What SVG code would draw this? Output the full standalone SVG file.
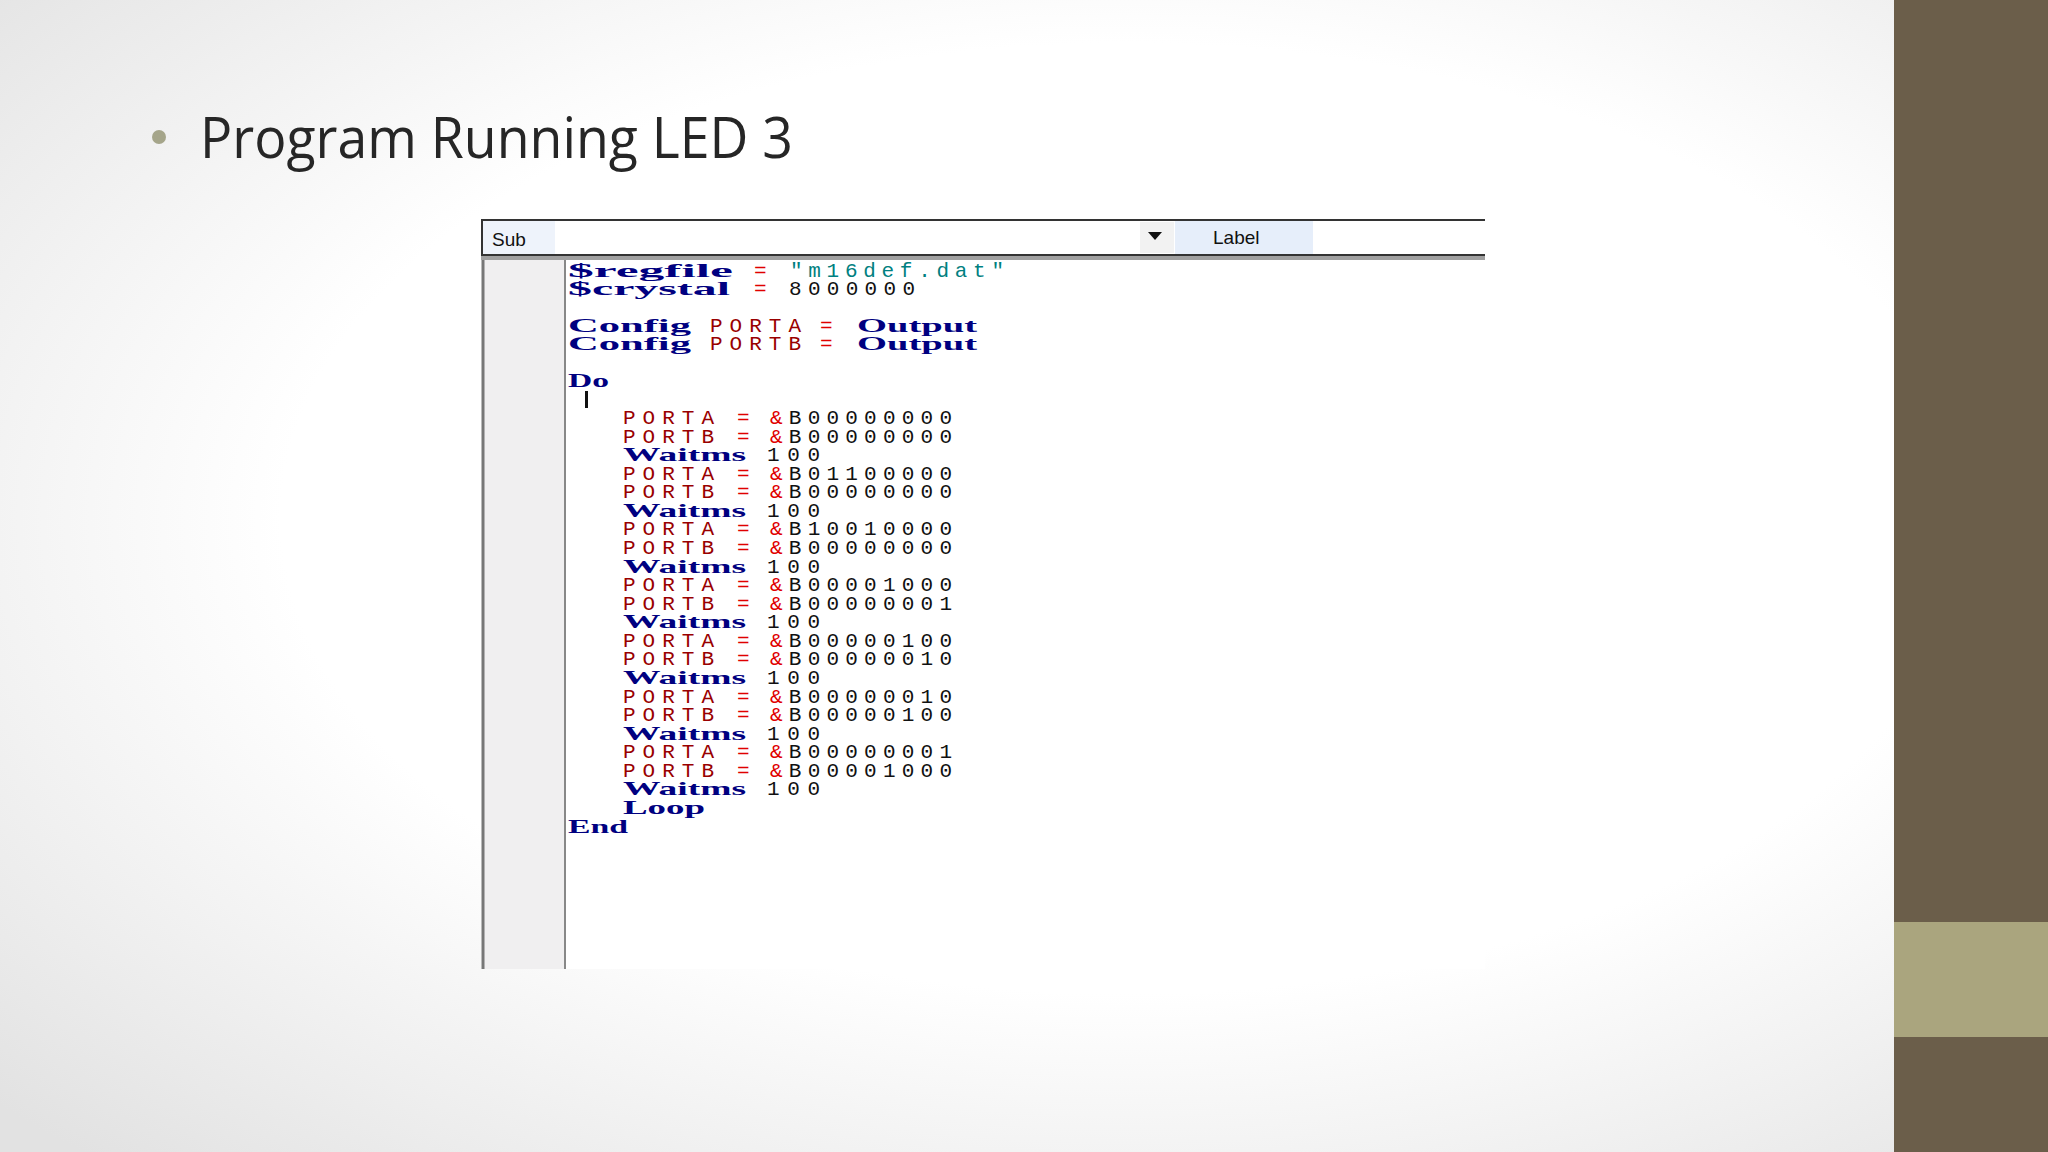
<svg xmlns="http://www.w3.org/2000/svg" width="2048" height="1152" viewBox="0 0 2048 1152">
<defs>
<radialGradient id="bg" cx="0.55" cy="0.45" r="0.75">
<stop offset="0.55" stop-color="#ffffff"/>
<stop offset="1" stop-color="#e2e2e2"/>
</radialGradient>
<style>
.c{font-family:"Liberation Mono","DejaVu Sans Mono",monospace;font-size:21px}
.b{font-weight:bold;fill:#000080;font-family:"Liberation Serif",serif;font-size:19px}
.r{fill:#990000}
.e{fill:#e00000}
.k{fill:#111111}
.s{fill:#008080}
.ui{font-family:"Liberation Sans",Arial,sans-serif;font-size:19px;fill:#111}
</style>
</defs>
<rect width="2048" height="1152" fill="url(#bg)"/>
<g id="sidebar">
<rect x="1894" y="0" width="154" height="1152" fill="#6b5e4a"/>
<rect x="1894" y="922" width="154" height="115" fill="#aaa57e"/>
</g>
<g id="title">
<circle cx="159" cy="137" r="7" fill="#a5a58a"/>
<text x="200" y="158" font-family="'Open Sans','Noto Sans',sans-serif" font-size="56" fill="#262626" textLength="593" lengthAdjust="spacingAndGlyphs">Program Running LED 3</text>
</g>
<g id="editor">
<rect x="481" y="219" width="1004" height="750" fill="#ffffff"/>
<rect x="483" y="221" width="72" height="33" fill="#eef3fb"/>
<rect x="1175" y="221" width="138" height="33" fill="#e6eefa"/>
<rect x="1140" y="222" width="34" height="31" fill="#f2f2f2"/>
<line x1="481" y1="220" x2="1485" y2="220" stroke="#333" stroke-width="2"/>
<line x1="482" y1="219" x2="482" y2="255" stroke="#333" stroke-width="2"/>
<line x1="481" y1="255" x2="1485" y2="255" stroke="#333" stroke-width="2"/>
<rect x="481" y="256" width="1004" height="4" fill="#a0a0a0"/>
<rect x="483" y="260" width="82" height="709" fill="#f0eff0"/>
<line x1="483" y1="260" x2="483" y2="969" stroke="#777" stroke-width="3"/>
<line x1="565" y1="260" x2="565" y2="969" stroke="#888" stroke-width="2"/>
<text class="ui" x="492" y="246">Sub</text>
<path d="M1148,232 h14 l-7,8 z" fill="#111"/>
<text class="ui" x="1213" y="244">Label</text>
<rect x="585" y="391" width="3" height="17" fill="#111"/>
</g>
<g id="code" class="c">
<text x="568" y="277" class="b" textLength="165" lengthAdjust="spacingAndGlyphs">$regfile</text>
<text x="754" y="277" class="e">=</text>
<text x="790" y="277" class="s" textLength="214" lengthAdjust="spacing">"m16def.dat"</text>
<text x="568" y="295" class="b" textLength="162" lengthAdjust="spacingAndGlyphs">$crystal</text>
<text x="754" y="295" class="e">=</text>
<text x="789" y="295" class="k" textLength="126" lengthAdjust="spacing">8000000</text>
<text x="568" y="332" class="b" textLength="123" lengthAdjust="spacingAndGlyphs">Config</text>
<text x="710" y="332" class="r" textLength="91" lengthAdjust="spacing">PORTA</text>
<text x="820" y="332" class="e">=</text>
<text x="857" y="332" class="b" textLength="120" lengthAdjust="spacingAndGlyphs">Output</text>
<text x="568" y="350" class="b" textLength="123" lengthAdjust="spacingAndGlyphs">Config</text>
<text x="710" y="350" class="r" textLength="91" lengthAdjust="spacing">PORTB</text>
<text x="820" y="350" class="e">=</text>
<text x="857" y="350" class="b" textLength="120" lengthAdjust="spacingAndGlyphs">Output</text>
<text x="568" y="387" class="b" textLength="41" lengthAdjust="spacingAndGlyphs">Do</text>

<g id="l1"><text x="623" y="424" class="r" textLength="91" lengthAdjust="spacing">PORTA</text><text x="737" y="424" class="e">=</text><text x="770" y="424" textLength="182" lengthAdjust="spacing"><tspan class="e">&amp;</tspan><tspan class="k">B00000000</tspan></text></g>
<g id="l2"><text x="623" y="443" class="r" textLength="91" lengthAdjust="spacing">PORTB</text><text x="737" y="443" class="e">=</text><text x="770" y="443" textLength="182" lengthAdjust="spacing"><tspan class="e">&amp;</tspan><tspan class="k">B00000000</tspan></text></g>
<g id="l3"><text x="623" y="461" class="b" textLength="123" lengthAdjust="spacingAndGlyphs">Waitms</text><text x="767" y="461" class="k" textLength="53" lengthAdjust="spacing">100</text></g>
<g id="l4"><text x="623" y="480" class="r" textLength="91" lengthAdjust="spacing">PORTA</text><text x="737" y="480" class="e">=</text><text x="770" y="480" textLength="182" lengthAdjust="spacing"><tspan class="e">&amp;</tspan><tspan class="k">B01100000</tspan></text></g>
<g id="l5"><text x="623" y="498" class="r" textLength="91" lengthAdjust="spacing">PORTB</text><text x="737" y="498" class="e">=</text><text x="770" y="498" textLength="182" lengthAdjust="spacing"><tspan class="e">&amp;</tspan><tspan class="k">B00000000</tspan></text></g>
<g id="l6"><text x="623" y="517" class="b" textLength="123" lengthAdjust="spacingAndGlyphs">Waitms</text><text x="767" y="517" class="k" textLength="53" lengthAdjust="spacing">100</text></g>
<g id="l7"><text x="623" y="535" class="r" textLength="91" lengthAdjust="spacing">PORTA</text><text x="737" y="535" class="e">=</text><text x="770" y="535" textLength="182" lengthAdjust="spacing"><tspan class="e">&amp;</tspan><tspan class="k">B10010000</tspan></text></g>
<g id="l8"><text x="623" y="554" class="r" textLength="91" lengthAdjust="spacing">PORTB</text><text x="737" y="554" class="e">=</text><text x="770" y="554" textLength="182" lengthAdjust="spacing"><tspan class="e">&amp;</tspan><tspan class="k">B00000000</tspan></text></g>
<g id="l9"><text x="623" y="573" class="b" textLength="123" lengthAdjust="spacingAndGlyphs">Waitms</text><text x="767" y="573" class="k" textLength="53" lengthAdjust="spacing">100</text></g>
<g id="l10"><text x="623" y="591" class="r" textLength="91" lengthAdjust="spacing">PORTA</text><text x="737" y="591" class="e">=</text><text x="770" y="591" textLength="182" lengthAdjust="spacing"><tspan class="e">&amp;</tspan><tspan class="k">B00001000</tspan></text></g>
<g id="l11"><text x="623" y="610" class="r" textLength="91" lengthAdjust="spacing">PORTB</text><text x="737" y="610" class="e">=</text><text x="770" y="610" textLength="182" lengthAdjust="spacing"><tspan class="e">&amp;</tspan><tspan class="k">B00000001</tspan></text></g>
<g id="l12"><text x="623" y="628" class="b" textLength="123" lengthAdjust="spacingAndGlyphs">Waitms</text><text x="767" y="628" class="k" textLength="53" lengthAdjust="spacing">100</text></g>
<g id="l13"><text x="623" y="647" class="r" textLength="91" lengthAdjust="spacing">PORTA</text><text x="737" y="647" class="e">=</text><text x="770" y="647" textLength="182" lengthAdjust="spacing"><tspan class="e">&amp;</tspan><tspan class="k">B00000100</tspan></text></g>
<g id="l14"><text x="623" y="665" class="r" textLength="91" lengthAdjust="spacing">PORTB</text><text x="737" y="665" class="e">=</text><text x="770" y="665" textLength="182" lengthAdjust="spacing"><tspan class="e">&amp;</tspan><tspan class="k">B00000010</tspan></text></g>
<g id="l15"><text x="623" y="684" class="b" textLength="123" lengthAdjust="spacingAndGlyphs">Waitms</text><text x="767" y="684" class="k" textLength="53" lengthAdjust="spacing">100</text></g>
<g id="l16"><text x="623" y="703" class="r" textLength="91" lengthAdjust="spacing">PORTA</text><text x="737" y="703" class="e">=</text><text x="770" y="703" textLength="182" lengthAdjust="spacing"><tspan class="e">&amp;</tspan><tspan class="k">B00000010</tspan></text></g>
<g id="l17"><text x="623" y="721" class="r" textLength="91" lengthAdjust="spacing">PORTB</text><text x="737" y="721" class="e">=</text><text x="770" y="721" textLength="182" lengthAdjust="spacing"><tspan class="e">&amp;</tspan><tspan class="k">B00000100</tspan></text></g>
<g id="l18"><text x="623" y="740" class="b" textLength="123" lengthAdjust="spacingAndGlyphs">Waitms</text><text x="767" y="740" class="k" textLength="53" lengthAdjust="spacing">100</text></g>
<g id="l19"><text x="623" y="758" class="r" textLength="91" lengthAdjust="spacing">PORTA</text><text x="737" y="758" class="e">=</text><text x="770" y="758" textLength="182" lengthAdjust="spacing"><tspan class="e">&amp;</tspan><tspan class="k">B00000001</tspan></text></g>
<g id="l20"><text x="623" y="777" class="r" textLength="91" lengthAdjust="spacing">PORTB</text><text x="737" y="777" class="e">=</text><text x="770" y="777" textLength="182" lengthAdjust="spacing"><tspan class="e">&amp;</tspan><tspan class="k">B00001000</tspan></text></g>
<g id="l21"><text x="623" y="795" class="b" textLength="123" lengthAdjust="spacingAndGlyphs">Waitms</text><text x="767" y="795" class="k" textLength="53" lengthAdjust="spacing">100</text></g>
<text x="623" y="814" class="b" textLength="82" lengthAdjust="spacingAndGlyphs">Loop</text>
<text x="568" y="833" class="b" textLength="60" lengthAdjust="spacingAndGlyphs">End</text>
</g>
</svg>
